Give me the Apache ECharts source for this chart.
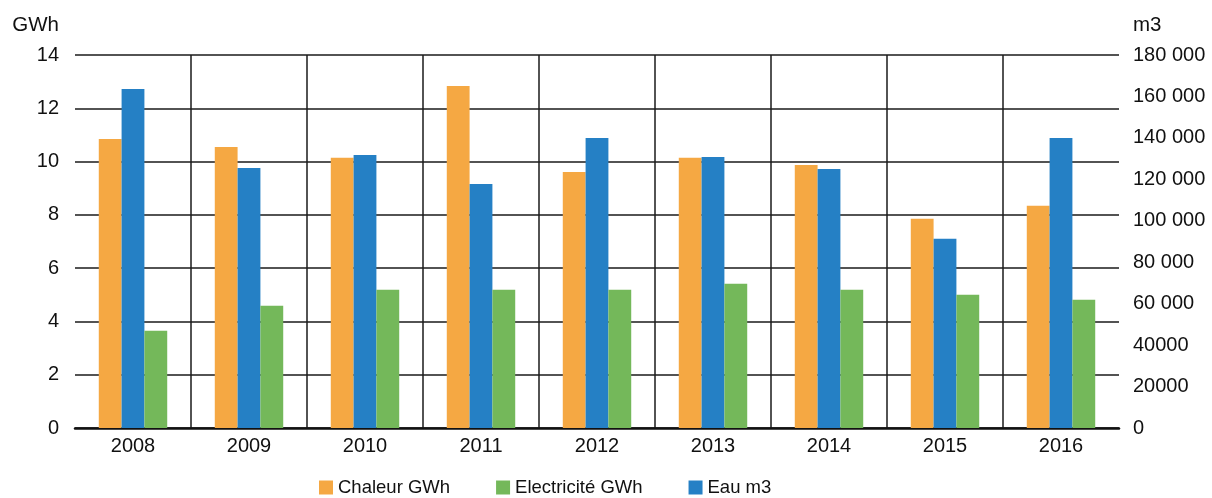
<!DOCTYPE html>
<html>
<head>
<meta charset="utf-8">
<script src="https://cdn.jsdelivr.net/npm/echarts@6/dist/echarts.min.js"></script>
<style>html,body{margin:0;padding:0;background:#fff}#c{width:1212px;height:498px}</style>
</head>
<body>
<div id="c"></div>
<script>
const years = ['2008','2009','2010','2011','2012','2013','2014','2015','2016'];
const chaleurGWh = [10.85, 10.55, 10.14, 12.84, 9.61, 10.14, 9.87, 7.85, 8.34];
const electriciteGWh = [3.65, 4.59, 5.19, 5.19, 5.19, 5.41, 5.19, 5.0, 4.81];
const eauM3 = [163600, 125500, 131800, 117800, 140000, 130800, 125000, 91300, 140000];
const rightTickValues = [0, 20000, 40000, 60000, 80000, 100000, 120000, 140000, 160000, 180000];
const rightTickLabels = ['0', '20000', '40000', '60 000', '80 000', '100 000', '120 000', '140 000', '160 000', '180 000'];
const seriesNames = ['Chaleur GWh', 'Electricité GWh', 'Eau m3'];

const FONT = '"Liberation Sans", Arial, sans-serif';
const chart = echarts.init(document.getElementById('c'), null, {renderer: 'canvas'});
chart.setOption({
  backgroundColor: '#ffffff',
  animation: false,
  textStyle: {fontFamily: FONT, color: '#111'},
  grid: {left: 75, right: 93, top: 55, bottom: 70, containLabel: false},
  legend: {
    data: seriesNames,
    left: 319, top: 478, padding: 0,
    itemWidth: 14, itemHeight: 14, itemGap: 46,
    icon: 'rect',
    textStyle: {fontFamily: FONT, fontSize: 18.5, color: '#111'}
  },
  xAxis: {
    type: 'category',
    data: years,
    axisLine: {show: true, lineStyle: {color: '#111', width: 2.5}},
    axisTick: {show: false},
    axisLabel: {fontFamily: FONT, fontSize: 20, color: '#111', margin: 8},
    splitLine: {show: true, showMinLine: false, showMaxLine: false, lineStyle: {color: '#1a1a1a', width: 1.5}}
  },
  yAxis: [
    {
      type: 'value', min: 0, max: 14, interval: 2,
      name: 'GWh', nameLocation: 'end', nameGap: 19,
      nameTextStyle: {fontFamily: FONT, fontSize: 20.5, color: '#111', align: 'right', padding: [0, 16, 0, 0]},
      axisLine: {show: false}, axisTick: {show: false},
      axisLabel: {fontFamily: FONT, fontSize: 20, color: '#111', margin: 16},
      splitLine: {show: true, lineStyle: {color: '#1a1a1a', width: 1.5}}
    },
    {
      type: 'value', min: 0, max: 180000, interval: 20000,
      name: 'm3', nameLocation: 'end', nameGap: 19,
      nameTextStyle: {fontFamily: FONT, fontSize: 20.5, color: '#111', align: 'left', padding: [0, 0, 0, 14]},
      axisLine: {show: false}, axisTick: {show: false},
      splitLine: {show: false},
      axisLabel: {
        fontFamily: FONT, fontSize: 20, color: '#111', margin: 14,
        formatter: function (v) {
          const i = rightTickValues.indexOf(v);
          return i >= 0 ? rightTickLabels[i] : String(v);
        }
      }
    }
  ],
  series: [
    {name: seriesNames[0], type: 'bar', yAxisIndex: 0, data: chaleurGWh, itemStyle: {color: '#F5A843'}, barGap: '0%', barCategoryGap: '41%'},
    {name: seriesNames[2], type: 'bar', yAxisIndex: 1, data: eauM3, itemStyle: {color: '#2580C5'}, barGap: '0%', barCategoryGap: '41%'},
    {name: seriesNames[1], type: 'bar', yAxisIndex: 0, data: electriciteGWh, itemStyle: {color: '#74B85A'}, barGap: '0%', barCategoryGap: '41%'}
  ]
});
</script>
</body>
</html>
